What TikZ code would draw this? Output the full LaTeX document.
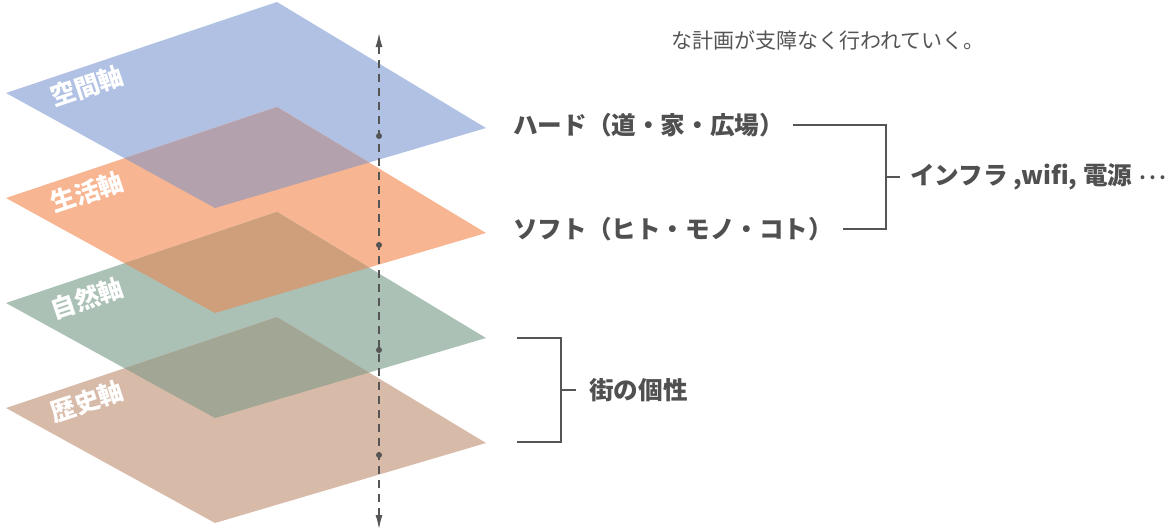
\documentclass[tikz,border=0pt]{standalone}
\usepackage{fontspec}
\usetikzlibrary{arrows.meta}
\newfontfamily\jp{Noto Sans CJK JP}
\definecolor{cBlue}{HTML}{B0C1E3}
\definecolor{cOrange}{HTML}{F8B592}
\definecolor{cGreen}{HTML}{ABC1B5}
\definecolor{cBrown}{HTML}{D8BAA8}
\definecolor{cOvA}{HTML}{B3A2AE}
\definecolor{cOvB}{HTML}{CF9E7A}
\definecolor{cOvC}{HTML}{A1A794}
\definecolor{cInk}{HTML}{505050}
\definecolor{cLine}{HTML}{555555}
\tikzset{
  layerlabel/.style={text=white, font=\jp\bfseries\fontsize{25}{25}\selectfont, rotate=18.6, inner sep=0pt},
  boldtext/.style={text=cInk, font=\jp\bfseries\fontsize{24.6}{24.6}\selectfont, inner sep=0pt, anchor=west},
  bracket/.style={draw=cLine, line width=2.5pt},
  axisline/.style={draw=cLine, line width=1.4pt, dash pattern=on 8pt off 6pt},
  axisdot/.style={circle, fill=cLine, inner sep=0pt, minimum size=6pt},
}
\begin{document}
\begin{tikzpicture}[x=1pt,y=-1pt]
\useasboundingbox (0,0) rectangle (1170,531);
\def\shp{(6,93) -- (277,2) -- (486,128) -- (215,208) -- cycle}
% layers
\fill[cBlue] \shp;
\fill[cOrange, shift={(0,105)}] \shp;
\fill[cGreen, shift={(0,210)}] \shp;
\fill[cBrown, shift={(0,315)}] \shp;
% overlaps
\begin{scope}
  \clip \shp;
  \fill[cOvA, shift={(0,105)}] \shp;
\end{scope}
\begin{scope}
  \clip[shift={(0,105)}] \shp;
  \fill[cOvB, shift={(0,210)}] \shp;
\end{scope}
\begin{scope}
  \clip[shift={(0,210)}] \shp;
  \fill[cOvC, shift={(0,315)}] \shp;
\end{scope}
% layer labels
\node[layerlabel] (l1) at (87,86) {空間軸};
\node[layerlabel] (l2) at (87,192) {生活軸};
\node[layerlabel] (l3) at (87,298) {自然軸};
\node[layerlabel] (l4) at (87,402) {歴史軸};
% vertical axis
\coordinate (atop) at (379,33);
\coordinate (abot) at (379,529);
\draw[axisline, {Latex[length=14pt,width=7pt]}-{Latex[length=14pt,width=7pt]}] (abot) -- (atop);
\node[axisdot] (d1) at (379,136) {};
\node[axisdot] (d2) at (379,245) {};
\node[axisdot] (d3) at (379,350) {};
\node[axisdot] (d4) at (379,455) {};
% top text
\node[text=cLine, font=\jp\fontsize{21}{21}\selectfont, inner sep=0pt] (top) at (828,40) {な計画が支障なく行われていく。};
% right texts
\node[boldtext] (hard) at (513,125) {ハード（道・家・広場）};
\node[boldtext] (soft) at (513,229) {ソフト（ヒト・モノ・コト）};
\node[boldtext] (infra) at (910,177) {インフラ ,wifi, 電源 {\fontsize{18}{18}\selectfont ·\kern-1pt·\kern-1pt·}};
\node[boldtext] (kosei) at (589,390) {街の個性};
% brackets
\coordinate (b1a) at (793,125);
\coordinate (b1m) at (886,177);
\coordinate (b1b) at (843,229);
\coordinate (b1t) at (900,177);
\draw[bracket] (b1a) -| (b1m) |- (b1b);
\draw[bracket] (b1m) -- (b1t);
\coordinate (b2a) at (517,338);
\coordinate (b2m) at (561,390);
\coordinate (b2b) at (517,442);
\coordinate (b2t) at (576,390);
\draw[bracket] (b2a) -| (b2m) |- (b2b);
\draw[bracket] (b2m) -- (b2t);
\end{tikzpicture}
\end{document}
